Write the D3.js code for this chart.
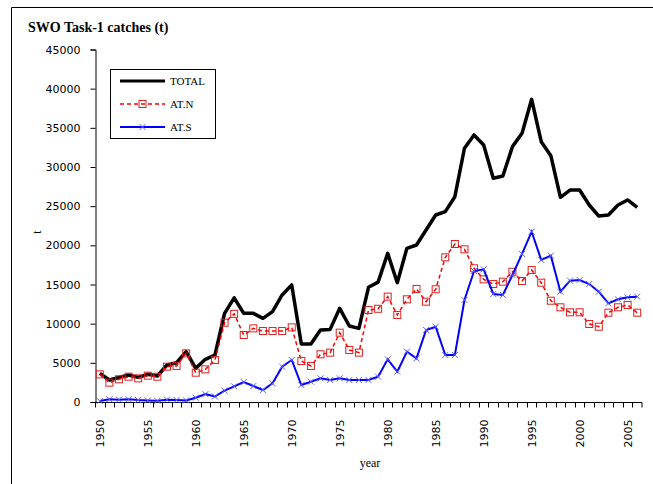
<!DOCTYPE html>
<html>
<head>
<meta charset="utf-8">
<script src="https://cdn.jsdelivr.net/npm/d3@7"></script>
<style>
body { margin: 0; background: #fff; }
svg text { fill: #000; }
.tick text { font-family: "DejaVu Sans", sans-serif; font-size: 11px; }
.serif { font-family: "Liberation Serif", "Times New Roman", serif; }
</style>
</head>
<body>
<svg id="chart" width="653" height="484"></svg>
<script>
// years 1950 - 2006
var years = d3.range(1950, 2007);

var total = [3660, 2810, 3150, 3450, 3150, 3530, 3320, 4720, 5020, 6420,
	4300, 5450, 6000, 11320, 13300, 11320, 11320, 10680, 11530, 13660,
	14940, 7400, 7400, 9190, 9270, 11960, 9700, 9400, 14640, 15300,
	18980, 15230, 19620, 20040, 21960, 23870, 24300, 26210, 32390, 34090,
	32810, 28560, 28850, 32600, 34300, 38640, 33230, 31450, 26130, 27060,
	27060, 25150, 23740, 23870, 25150, 25790, 24850];

var atN = [3530, 2470, 2900, 3230, 3020, 3360, 3230, 4510, 4600, 6210,
	3740, 4170, 5360, 10120, 11250, 8550, 9400, 9060, 9060, 9060,
	9530, 5230, 4600, 6090, 6300, 8850, 6640, 6300, 11740, 11900,
	13450, 11110, 13110, 14430, 12810, 14390, 18470, 20170, 19490, 17070,
	15660, 15060, 15360, 16630, 15450, 16850, 15230, 12930, 12090, 11450,
	11450, 9960, 9610, 11400, 12090, 12380, 11400];

var atS = [130, 350, 300, 350, 250, 200, 150, 300, 250, 200,
	550, 1000, 700, 1450, 2000, 2550, 2040, 1530, 2380, 4510,
	5360, 2170, 2590, 3020, 2810, 3020, 2810, 2810, 2810, 3230,
	5450, 3870, 6420, 5570, 9190, 9610, 6000, 6000, 13020, 16720,
	16940, 13790, 13660, 16210, 18900, 21740, 18130, 18680, 14080, 15490,
	15570, 15060, 14080, 12600, 13110, 13360, 13450];

var yTicks = d3.range(0, 45001, 5000);
var xLabels = [1950, 1955, 1960, 1965, 1970, 1975, 1980, 1985, 1990, 1995, 2000, 2005];

var svg = d3.select("#chart");

// frame lines
svg.append("line").attr("x1", 11.5).attr("x2", 653).attr("y1", 7.5).attr("y2", 7.5)
	.attr("stroke", "#000").attr("stroke-width", 1);
svg.append("line").attr("x1", 11.5).attr("x2", 11.5).attr("y1", 7.5).attr("y2", 484)
	.attr("stroke", "#000").attr("stroke-width", 1);

var x = d3.scaleBand().domain(years).range([95, 642]);
var y = d3.scaleLinear().domain([0, 45000]).range([402, 49.5]);
var cx = function(d, i) { return x(years[i]) + x.bandwidth() / 2; };

// axes
var yAxis = svg.append("g")
	.attr("transform", "translate(95.5,0)")
	.call(d3.axisLeft(y).tickValues(yTicks).tickSize(5).tickPadding(10).tickFormat(d3.format("d")));
yAxis.select(".domain").attr("stroke", "#000");

var xAxis = svg.append("g")
	.attr("transform", "translate(0,402.5)");
xAxis.append("line").attr("x1", 95).attr("x2", 642).attr("stroke", "#000");
xAxis.selectAll(".tk")
	.data(years.concat([2007]))
	.enter()
	.append("line")
	.attr("x1", function(d) { return d == 2007 ? 642 : Math.round(x(d)) + 0.5; })
	.attr("x2", function(d) { return d == 2007 ? 642 : Math.round(x(d)) + 0.5; })
	.attr("y1", 0).attr("y2", 5)
	.attr("stroke", "#000");
xAxis.selectAll(".lbl")
	.data(xLabels)
	.enter()
	.append("text")
	.attr("class", "tick")
	.attr("transform", function(d) { return "translate(" + (x(d) + x.bandwidth() / 2 + 4) + ",17) rotate(-90)"; })
	.attr("text-anchor", "end")
	.style("font-family", "DejaVu Sans, sans-serif")
	.style("font-size", "11px")
	.text(function(d) { return d; });

// lines
var line = d3.line().x(cx).y(function(d) { return y(d); });

svg.append("path").datum(total)
	.attr("d", line).attr("fill", "none")
	.attr("stroke", "#000").attr("stroke-width", 3.5).attr("stroke-linejoin", "round");

svg.append("path").datum(atN)
	.attr("d", line).attr("fill", "none")
	.attr("stroke", "#ff0000").attr("stroke-width", 1.5).attr("stroke-dasharray", "4,3");
svg.selectAll(".sq").data(atN).enter().append("rect")
	.attr("x", function(d, i) { return cx(d, i) - 3.5; })
	.attr("y", function(d) { return y(d) - 3.5; })
	.attr("width", 7).attr("height", 7)
	.attr("fill", "none").attr("stroke", "#e02020").attr("stroke-width", 1);

svg.append("path").datum(atS)
	.attr("d", line).attr("fill", "none")
	.attr("stroke", "#0000ff").attr("stroke-width", 2);
svg.selectAll(".xm").data(atS).enter().append("path")
	.attr("d", function(d, i) {
		var px = cx(d, i), py = y(d);
		return "M" + (px - 3) + "," + (py - 3) + "L" + (px + 3) + "," + (py + 3) +
			"M" + (px - 3) + "," + (py + 3) + "L" + (px + 3) + "," + (py - 3);
	})
	.attr("stroke", "#6060ff").attr("stroke-width", 1);

// title and axis titles
svg.append("text").attr("class", "serif")
	.attr("x", 28).attr("y", 32)
	.style("font-size", "14px").style("font-weight", "bold")
	.text("SWO Task-1 catches (t)");
svg.append("text").attr("class", "serif")
	.attr("x", 370).attr("y", 467).attr("text-anchor", "middle")
	.style("font-size", "12px")
	.text("year");
svg.append("text").attr("class", "serif")
	.attr("transform", "translate(41,232) rotate(-90)").attr("text-anchor", "middle")
	.style("font-size", "12px")
	.text("t");

// legend
var legend = svg.append("g").attr("transform", "translate(110,69)");
legend.append("rect").attr("x", 0.5).attr("y", 0.5).attr("width", 105).attr("height", 69)
	.attr("fill", "#fff").attr("stroke", "#000");
var items = [
	{ name: "TOTAL", color: "#000", w: 3, dash: null, mark: null },
	{ name: "AT.N", color: "#ff0000", w: 1.5, dash: "4,3", mark: "sq" },
	{ name: "AT.S", color: "#0000ff", w: 2, dash: null, mark: "x" }
];
var item = legend.selectAll(".item").data(items).enter().append("g")
	.attr("transform", function(d, i) { return "translate(0," + (12 + 23 * i) + ")"; });
item.append("line").attr("x1", 10).attr("x2", 55)
	.attr("stroke", function(d) { return d.color; })
	.attr("stroke-width", function(d) { return d.w; })
	.attr("stroke-dasharray", function(d) { return d.dash; });
item.filter(function(d) { return d.mark == "sq"; }).append("rect")
	.attr("x", 29).attr("y", -3.5).attr("width", 7).attr("height", 7)
	.attr("fill", "none").attr("stroke", "#e02020");
item.filter(function(d) { return d.mark == "x"; }).append("path")
	.attr("d", "M29.5,-3L35.5,3M29.5,3L35.5,-3")
	.attr("stroke", "#6060ff");
item.append("text").attr("class", "serif")
	.attr("x", 60).attr("y", 4)
	.style("font-size", "11px")
	.text(function(d) { return d.name; });
</script>
</body>
</html>
